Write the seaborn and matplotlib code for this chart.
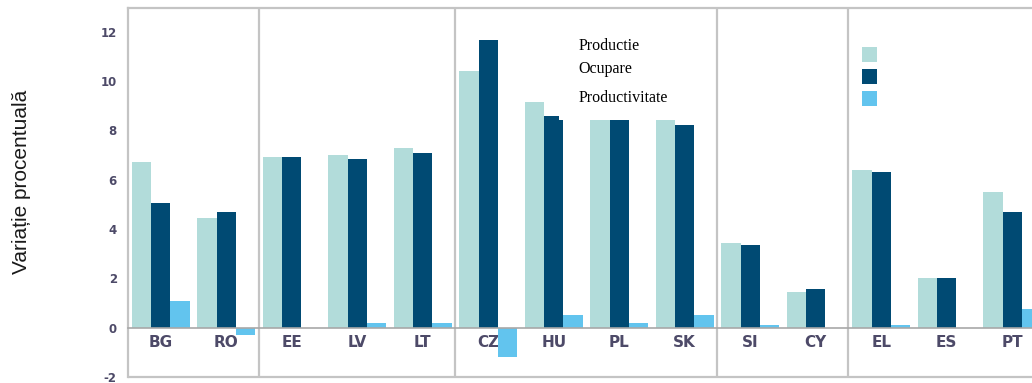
import pandas as pd
import matplotlib
matplotlib.use('Agg')
import matplotlib.pyplot as plt
from matplotlib.patches import Patch, Rectangle
from matplotlib.ticker import FixedLocator
import seaborn as sns

# values (percent change)
countries = ['BG', 'RO', 'EE', 'LV', 'LT', 'CZ', 'HU', 'PL', 'SK', 'SI', 'CY', 'EL', 'ES', 'PT']
productie = [6.7, 4.45, 6.9, 7.0, 7.3, 10.4, 9.15, 8.4, 8.4, 3.45, 1.45, 6.4, 2.0, 5.5]
ocupare = [5.05, 4.7, 6.9, 6.85, 7.1, 11.65, 8.6, 8.4, 8.2, 3.35, 1.55, 6.3, 2.0, 4.7]
productivitate = [1.1, -0.3, 0.0, 0.2, 0.2, -1.2, 0.5, 0.2, 0.5, 0.1, 0.0, 0.1, 0.0, 0.75]
series_names = ['Productie', 'Ocupare', 'Productivitate']
group_breaks = [1.5, 4.5, 8.5, 10.5]

colors = ['#b2dcda', '#004a73', '#62c4ee']
grid_grey = '#c4c4c4'
label_col = '#4d4a68'

rows = []
for name, vals in zip(series_names, [productie, ocupare, productivitate]):
    for c, v in zip(countries, vals):
        rows.append({'country': c, 'series': name, 'value': v})
df = pd.DataFrame(rows)

sns.set_style('white')
plt.rcParams['axes.unicode_minus'] = False
fig = plt.figure(figsize=(10.32, 3.83), dpi=100)
ax = fig.add_axes([0.124, 0.0157, 0.8886, 0.9634])

sns.barplot(data=df, x='country', y='value', hue='series', order=countries,
            hue_order=series_names, palette=colors, saturation=1, width=0.88,
            gap=0, legend=False, linewidth=0, edgecolor='none', ax=ax)

ax.set_xlim(-0.5, len(countries) - 0.5)
ax.set_ylim(-2, 12.96)
ax.set_axisbelow(True)

# group separators
for b in group_breaks:
    ax.axvline(b, color=grid_grey, lw=1.6, zorder=0.8)

# frame
for side in ['left', 'top', 'right']:
    ax.spines[side].set_color(grid_grey)
    ax.spines[side].set_linewidth(1.6)
ax.spines['bottom'].set_position(('data', 0))
ax.spines['bottom'].set_color('#a8a8a8')
ax.spines['bottom'].set_linewidth(1.2)
ax.axhline(-2, color=grid_grey, lw=1.6, clip_on=False)

ax.set_yticks(range(-2, 13, 2))
ax.tick_params(axis='y', length=3, width=1, color='#909090', pad=5,
               labelsize=8.5, labelcolor=label_col, direction='out')
for t in ax.get_yticklabels():
    t.set_fontweight('bold')

ax.xaxis.set_minor_locator(FixedLocator([i + 0.5 for i in range(len(countries))]))
ax.tick_params(axis='x', which='major', length=0, pad=5, labelsize=11,
               labelcolor=label_col)
ax.tick_params(axis='x', which='minor', length=3, width=1, color='#909090',
               direction='out')
for t in ax.get_xticklabels():
    t.set_fontweight('bold')

ax.set_xlabel('')
ax.set_ylabel('')
fig.text(0.021, 0.525, 'Variație procentuală', rotation=90, ha='center', va='center',
         fontsize=15, family='Liberation Sans', color='#1a1a1a')

# white label box over the bars, as in the original
ax.add_patch(Rectangle((6.08, 8.42), 1.85, 3.4, facecolor='white',
                       edgecolor='none', zorder=3))
label_y = [11.43, 10.5, 9.32]
for name, yv in zip(series_names, label_y):
    ax.text(6.38, yv, name, ha='left', va='center', fontsize=11.5,
            family='Liberation Serif', color='black', zorder=4)

# legend swatches with no text
handles = [Patch(facecolor=c, edgecolor='none') for c in colors]
fig.legend(handles, ['', '', ''], loc='upper left',
           bbox_to_anchor=(862 / 1032, 1 - 47 / 383), frameon=False,
           fontsize=10, handlelength=1.1, handleheight=1.3, labelspacing=0.5,
           borderpad=0, borderaxespad=0, handletextpad=0)

fig.savefig('out.png', dpi=100)
